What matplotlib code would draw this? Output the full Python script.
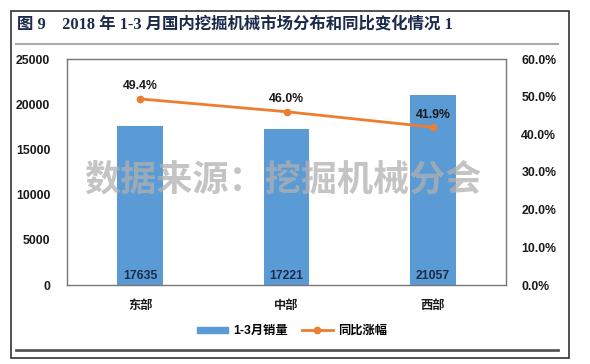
import numpy as np
import matplotlib.pyplot as plt
from matplotlib.patches import Rectangle
from matplotlib.lines import Line2D

# data
regions = ['东部', '中部', '西部']
sales = [17635, 17221, 21057]          # 1-3月销量
growth = [49.4, 46.0, 41.9]            # 同比涨幅 (%)
left_ticks = [0, 5000, 10000, 15000, 20000, 25000]
right_ticks = [0, 10, 20, 30, 40, 50, 60]

W, H = 590, 364
fonts = ['Liberation Sans', 'Noto Sans CJK SC', 'DejaVu Sans']
plt.rcParams['font.family'] = fonts

bar_color = '#5B9BD5'
line_color = '#ED7D31'
txt_color = '#1a1a1a'

fig = plt.figure(figsize=(W / 100, H / 100), dpi=100)

def fx(px):
    return px / W

def fy(py):
    return 1 - py / H

# outer frame and rules
fig.add_artist(Rectangle((fx(11), fy(358)), fx(569) - fx(11), fy(11) - fy(358),
                         fill=False, edgecolor='#333333', lw=1.2, transform=fig.transFigure))
fig.add_artist(Line2D([fx(16), fx(558)], [fy(44), fy(44)], color='#aaaaaa', lw=1.5,
                      transform=fig.transFigure))
fig.add_artist(Line2D([fx(16), fx(558)], [fy(350), fy(350)], color='#555555', lw=2,
                      transform=fig.transFigure))

fig.text(fx(17), fy(24), '图 9    2018 年 1-3 月国内挖掘机械市场分布和同比变化情况 1',
         family=['Liberation Serif', 'Noto Sans CJK SC'], fontsize=11.8, fontweight='bold',
         color='#1c2a4a', va='center', ha='left')

# plot area
ax = fig.add_axes([fx(67), fy(285), fx(506) - fx(67), fy(59) - fy(285)])
x = np.arange(len(regions))
ax.bar(x, sales, width=0.31, color=bar_color, zorder=2)
ax.set_xlim(-0.5, len(regions) - 0.5)
ax.set_ylim(0, 25000)
ax.set_yticks(left_ticks)
ax.set_yticklabels([str(v) for v in left_ticks])
ax.set_xticks(x)
ax.set_xticklabels(regions)
ax.tick_params(axis='both', length=0, labelsize=8.8, colors=txt_color)
ax.tick_params(axis='y', pad=12)
ax.tick_params(axis='x', pad=11)
for lab in ax.get_xticklabels() + ax.get_yticklabels():
    lab.set_fontweight('bold')
for s in ax.spines.values():
    s.set_color('#777777')
    s.set_linewidth(1)

for xi, v in zip(x, sales):
    ax.text(xi, 1000, str(v), ha='center', va='center', fontsize=8.8,
            fontweight='bold', color='#1c2a4a', zorder=5)

ax2 = ax.twinx()
ax2.plot(x, growth, color=line_color, lw=2, marker='o', markersize=4.5, zorder=3)
ax2.set_ylim(0, 60)
ax2.set_yticks(right_ticks)
ax2.set_yticklabels(['%.1f%%' % v for v in right_ticks])
ax2.tick_params(axis='y', length=0, labelsize=8.8, colors=txt_color, pad=11)
for lab in ax2.get_yticklabels():
    lab.set_fontweight('bold')
for s in ax2.spines.values():
    s.set_visible(False)

for xi, g in zip(x, growth):
    ax2.text(xi, g + 3.3, '%.1f%%' % g, ha='center', va='center', fontsize=8.8,
             fontweight='bold', color=txt_color, zorder=5)

# watermark
fig.text(fx(283), fy(181), '数据来源：挖掘机械分会', fontsize=26, fontweight='bold',
         color='#b0b0b0', alpha=0.75, ha='center', va='center', zorder=10)

# legend
handles = [Rectangle((0, 0), 1, 1, color=bar_color),
           Line2D([], [], color=line_color, lw=2, marker='o', markersize=4.5)]
leg = fig.legend(handles, ['1-3月销量', '同比涨幅'], loc='center',
                 bbox_to_anchor=(fx(292), fy(331)), ncol=2, frameon=False,
                 prop={'weight': 'bold', 'size': 8.8}, handlelength=2.5,
                 handleheight=0.4, columnspacing=1.2, handletextpad=0.4)

fig.savefig('out.png', dpi=100)
